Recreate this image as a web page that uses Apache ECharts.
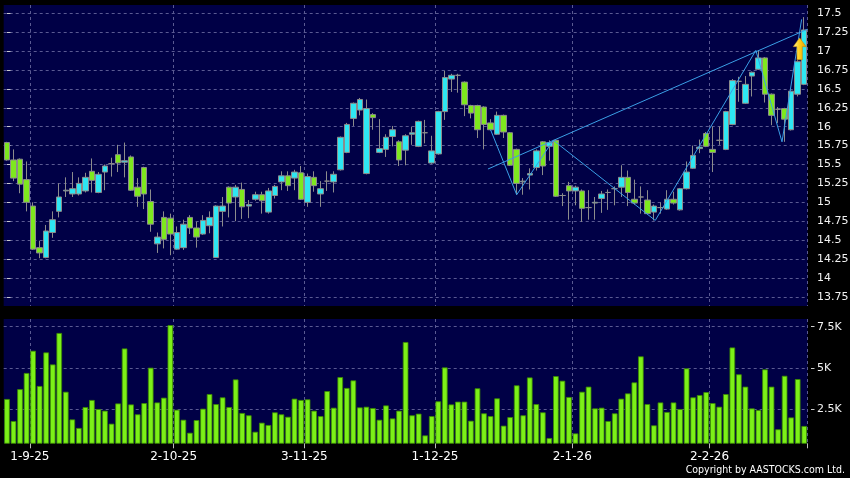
<!DOCTYPE html>
<html>
<head>
<meta charset="utf-8">
<script src="https://cdn.jsdelivr.net/npm/echarts@6/dist/echarts.min.js"></script>
<style>
  html, body { margin: 0; padding: 0; background: #000; }
  #chart { width: 850px; height: 478px; }
</style>
</head>
<body>
<div id="chart"></div>
<script>
// trading days (d-m-yy)
const dates = [
  '26-8-25','27-8-25','28-8-25','29-8-25',
  '1-9-25','2-9-25','3-9-25','4-9-25','5-9-25','8-9-25','9-9-25','10-9-25','11-9-25','12-9-25',
  '15-9-25','16-9-25','17-9-25','18-9-25','19-9-25','22-9-25','23-9-25','24-9-25','25-9-25','26-9-25',
  '29-9-25','30-9-25',
  '2-10-25','3-10-25','6-10-25','8-10-25','9-10-25','10-10-25','13-10-25','14-10-25','15-10-25','16-10-25',
  '17-10-25','20-10-25','21-10-25','22-10-25','23-10-25','24-10-25','27-10-25','28-10-25','30-10-25','31-10-25',
  '3-11-25','4-11-25','5-11-25','6-11-25','7-11-25','10-11-25','11-11-25','12-11-25','13-11-25','14-11-25',
  '17-11-25','18-11-25','19-11-25','20-11-25','21-11-25','24-11-25','25-11-25','26-11-25','27-11-25','28-11-25',
  '1-12-25','2-12-25','3-12-25','4-12-25','5-12-25','8-12-25','9-12-25','10-12-25','11-12-25','12-12-25',
  '15-12-25','16-12-25','17-12-25','18-12-25','19-12-25','22-12-25','23-12-25','24-12-25','29-12-25','30-12-25',
  '31-12-25',
  '2-1-26','5-1-26','6-1-26','7-1-26','8-1-26','9-1-26','12-1-26','13-1-26','14-1-26','15-1-26',
  '16-1-26','19-1-26','20-1-26','21-1-26','22-1-26','23-1-26','26-1-26','27-1-26','28-1-26','29-1-26',
  '30-1-26',
  '2-2-26','3-2-26','4-2-26','5-2-26','6-2-26','9-2-26','10-2-26','11-2-26','12-2-26','13-2-26',
  '16-2-26','20-2-26','23-2-26','24-2-26','25-2-26'
];
const labelDates = ['1-9-25', '2-10-25', '3-11-25', '1-12-25', '2-1-26', '2-2-26'];

const openP = [
  15.79,15.56,15.57,15.30,14.95,14.40,14.27,14.60,14.88,15.15,15.11,15.11,15.15,15.41,15.13,15.40,15.51,15.63,15.53,15.60,
  15.20,15.46,15.01,14.45,14.80,14.79,14.38,14.40,14.80,14.66,14.58,14.69,14.27,14.88,15.20,15.07,15.17,14.95,15.04,15.10,
  14.87,15.09,15.27,15.35,15.32,15.39,15.00,15.33,15.11,15.28,15.27,15.43,15.66,16.11,16.22,15.38,16.16,15.66,15.70,15.87,
  15.80,15.69,15.90,15.74,15.92,15.52,15.64,16.20,16.63,16.68,16.59,16.28,16.28,16.26,16.05,15.90,16.15,15.92,15.70,15.27,
  15.36,15.46,15.80,15.74,15.82,15.09,15.22,15.15,15.15,14.93,14.99,15.05,15.13,15.18,15.20,15.33,15.04,15.07,15.03,14.87,
  14.93,14.91,15.04,14.90,15.18,15.45,15.71,15.91,15.70,15.82,15.70,16.03,16.60,16.31,16.67,16.76,16.91,16.43,16.23,16.24,
  15.96,16.43,16.56
];
const closeP = [
  15.56,15.32,15.24,15.00,14.38,14.33,14.62,14.77,15.07,15.16,15.18,15.25,15.33,15.29,15.37,15.48,15.51,15.52,15.55,15.16,
  15.08,15.11,14.71,14.54,14.51,14.58,14.60,14.71,14.66,14.54,14.76,14.80,14.95,14.95,14.99,15.20,14.94,14.97,15.10,15.02,
  15.15,15.21,15.35,15.22,15.40,15.04,15.34,15.22,15.18,15.28,15.37,15.86,16.03,16.31,16.36,16.24,16.12,15.71,15.86,15.96,
  15.56,15.88,15.92,16.07,15.92,15.68,16.20,16.65,16.68,16.68,16.29,16.18,15.96,16.03,15.96,16.15,15.93,15.49,15.25,15.28,
  15.38,15.68,15.48,15.79,15.08,15.09,15.15,15.20,14.92,14.93,15.00,15.11,15.13,15.18,15.33,15.13,14.99,15.07,14.85,14.95,
  14.93,15.04,14.99,15.18,15.40,15.62,15.73,15.74,15.66,15.82,16.20,16.61,16.60,16.56,16.72,16.91,16.43,16.15,16.23,16.10,
  16.47,16.86,17.28
];
const lowP = [
  15.55,15.28,15.12,14.88,14.37,14.26,14.26,14.53,14.80,15.07,15.07,15.09,15.13,15.13,15.12,15.16,15.34,15.40,15.33,15.15,
  14.94,14.91,14.61,14.33,14.39,14.30,14.37,14.37,14.58,14.40,14.57,14.59,14.27,14.68,14.80,14.75,14.78,14.79,15.02,14.85,
  14.85,15.05,15.16,15.15,15.16,15.03,14.94,15.14,14.94,15.15,15.13,15.42,15.65,16.01,16.15,15.37,15.96,15.65,15.60,15.74,
  15.48,15.49,15.76,15.73,15.78,15.51,15.63,16.09,16.46,16.45,16.14,16.11,15.85,15.70,15.95,15.89,15.85,15.48,15.10,15.10,
  15.17,15.42,15.36,15.55,15.07,14.95,14.77,14.96,14.74,14.77,14.77,14.86,14.90,14.96,15.07,14.95,14.97,14.85,14.84,14.76,
  14.85,14.90,14.97,14.89,15.17,15.44,15.65,15.73,15.40,15.76,15.69,16.02,16.33,16.30,16.40,16.75,16.32,16.02,16.05,15.80,
  15.95,16.40,16.55
];
const highP = [
  15.80,15.70,15.58,15.54,15.00,14.49,14.70,14.88,15.25,15.33,15.40,15.33,15.39,15.58,15.40,15.50,15.59,15.76,15.79,15.62,
  15.32,15.47,15.17,14.60,14.88,14.85,14.68,14.77,14.83,14.74,14.83,14.88,14.96,15.07,15.21,15.23,15.26,15.03,15.14,15.14,
  15.19,15.23,15.41,15.41,15.43,15.48,15.38,15.41,15.28,15.41,15.41,15.87,16.05,16.32,16.38,16.36,16.18,16.10,15.90,16.01,
  15.82,15.90,16.00,16.08,16.09,15.88,16.21,16.74,16.70,16.70,16.60,16.29,16.29,16.27,16.10,16.20,16.16,15.93,15.71,15.32,
  15.45,15.70,15.81,15.82,15.83,15.12,15.27,15.22,15.17,15.16,15.07,15.15,15.17,15.21,15.49,15.42,15.30,15.21,15.16,14.97,
  15.00,15.16,15.14,15.19,15.54,15.75,15.83,15.93,16.00,16.00,16.21,16.63,16.66,16.67,16.73,17.01,16.92,16.44,16.26,16.25,
  16.48,16.88,17.45
];
const volume = [
  3110,1770,3710,4690,6040,3900,5940,5210,7120,3550,1870,1350,2620,3050,2500,2400,1610,2840,6180,2780,
  2180,2860,5010,2900,3190,7600,2460,1850,1060,1830,2520,3410,2800,3210,2620,4300,2260,2120,1120,1670,
  1530,2300,2180,2030,3130,3050,3090,2400,2070,3590,2580,4440,3780,4240,2600,2640,2560,1850,2720,1930,
  2400,6570,2120,2220,900,2070,2970,5030,2780,2950,2950,1790,3760,2240,2070,3150,1490,2010,3940,2120,
  4420,2800,2300,740,4500,4220,3230,1020,3550,3860,2540,2580,1770,2240,3130,3450,4120,5700,2800,1510,
  2900,2320,2900,2500,4970,3210,3350,3530,2860,2640,3410,6240,4610,3860,2540,2440,4910,3860,1270,4520,
  1990,4320,1470
];

// drawn lines: [day index, price]
const zigzag = [[74, 15.96], [78, 15.10], [83.6, 15.82], [99.2, 14.76], [114.6, 17.01], [118.6, 15.80], [121.6, 17.42]];
const trendLine = [[73.6, 15.44], [122.5, 17.29]];
const arrowAt = [[121.3, 17.03]];

const priceTicks = [13.75, 14, 14.25, 14.5, 14.75, 15, 15.25, 15.5, 15.75, 16, 16.25, 16.5, 16.75, 17, 17.25, 17.5];
const volTicks = [2500, 5000, 7500];

const candles = openP.map((o, i) => [o, closeP[i], lowP[i], highP[i]]);
const labelIdx = labelDates.map(d => dates.indexOf(d));
const isLabel = (i) => labelIdx.indexOf(i) >= 0;

const gridLine = { color: '#5a5a92', width: 1, type: [3, 3] };
const font = 'DejaVu Sans';

const chart = echarts.init(document.getElementById('chart'));
chart.setOption({
  backgroundColor: '#000000',
  animation: false,
  grid: [
    { left: 3.7, right: 42.5, top: 5, height: 301, show: true, backgroundColor: '#000046', borderWidth: 0, outerBoundsMode: 'none' },
    { left: 3.7, right: 42.5, top: 319, height: 124.3, show: true, backgroundColor: '#000046', borderWidth: 0, outerBoundsMode: 'none' }
  ],
  xAxis: [
    {
      type: 'category', gridIndex: 0, data: dates, boundaryGap: true,
      axisLine: { show: false }, axisTick: { show: false }, axisLabel: { show: false },
      splitLine: { show: true, interval: (i) => isLabel(i), lineStyle: gridLine }
    },
    {
      type: 'category', gridIndex: 1, data: dates, boundaryGap: true,
      axisLine: { show: false },
      axisTick: { show: true, interval: (i) => isLabel(i), length: 5, lineStyle: { color: '#bbbbbb' } },
      axisLabel: {
        show: true, interval: (i) => isLabel(i), color: '#ffffff', fontFamily: font, fontSize: 12,
        margin: 8, padding: [0, 6.5, 0, 0]
      },
      splitLine: { show: true, interval: (i) => isLabel(i), lineStyle: gridLine }
    },
    {
      type: 'value', gridIndex: 0, min: -0.5, max: dates.length - 0.5, show: false
    }
  ],
  yAxis: [
    {
      type: 'value', gridIndex: 0, position: 'right', min: 13.628, max: 17.61, offset: 3.5,
      axisLine: { show: false },
      axisTick: { show: true, length: 3.5, customValues: priceTicks, lineStyle: { color: '#cccccc' } },
      axisLabel: { show: true, customValues: priceTicks, margin: 6, color: '#f2f2f2', fontFamily: font, fontSize: 11 },
      splitLine: { show: true, lineStyle: gridLine }
    },
    {
      type: 'value', gridIndex: 1, position: 'right', min: 420, max: 7970, offset: 3.5,
      axisLine: { show: false },
      axisTick: { show: true, length: 3.5, customValues: volTicks, lineStyle: { color: '#cccccc' } },
      axisLabel: {
        show: true, customValues: volTicks, margin: 6, color: '#f2f2f2', fontFamily: font, fontSize: 11,
        formatter: (v) => (v / 1000) + 'K'
      },
      splitLine: { show: true, lineStyle: gridLine }
    }
  ],
  series: [
    {
      type: 'candlestick', xAxisIndex: 0, yAxisIndex: 0, data: candles, barWidth: 6,
      itemStyle: {
        color: '#2ee6f2', color0: '#7ee81e',
        borderColor: '#8c8c8c', borderColor0: '#8c8c8c', borderColorDoji: '#8c8c8c', borderWidth: 1
      }
    },
    {
      type: 'bar', xAxisIndex: 1, yAxisIndex: 1, data: volume, barWidth: 5.6,
      itemStyle: { color: '#7cf018', borderColor: '#3c8c00', borderWidth: 0.8 }
    },
    {
      type: 'line', xAxisIndex: 2, yAxisIndex: 0, data: zigzag, symbol: 'none', z: 5,
      lineStyle: { color: '#3a9fe6', width: 1 }
    },
    {
      type: 'line', xAxisIndex: 2, yAxisIndex: 0, data: trendLine, symbol: 'none', z: 5,
      lineStyle: { color: '#3a9fe6', width: 1 }
    },
    {
      type: 'scatter', xAxisIndex: 2, yAxisIndex: 0, data: arrowAt, z: 6,
      symbol: 'path://M6,0 L12,8 L8.5,8 L8.5,20 L3.5,20 L3.5,8 L0,8 Z', symbolSize: [13, 22],
      itemStyle: {
        opacity: 1,
        color: new echarts.graphic.LinearGradient(0, 0, 1, 0, [
          { offset: 0, color: '#fff2a0' }, { offset: 0.45, color: '#ffd21e' }, { offset: 1, color: '#e89a00' }
        ]),
        borderColor: '#c08000', borderWidth: 0.5
      }
    }
  ],
  graphic: [
    {
      type: 'text', x: 845, y: 465, scaleX: 0.86,
      style: { text: 'Copyright by AASTOCKS.com Ltd.', fill: '#ffffff', font: '11px "DejaVu Sans"', textAlign: 'right', textVerticalAlign: 'top' }
    }
  ]
});
</script>
</body>
</html>
